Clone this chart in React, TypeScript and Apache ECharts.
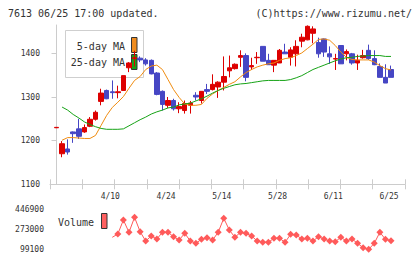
import React, { useEffect, useRef } from "react";
import * as echarts from "echarts";

const dates = [
  "3/27","3/30","3/31","4/1","4/2","4/3","4/6","4/7","4/8","4/9",
  "4/10","4/13","4/14","4/15","4/16","4/17","4/20","4/21","4/22","4/23",
  "4/24","4/27","4/28","4/30","5/1","5/7","5/8","5/11","5/12","5/13",
  "5/14","5/15","5/18","5/19","5/20","5/21","5/22","5/25","5/26","5/27",
  "5/28","5/29","6/1","6/2","6/3","6/4","6/5","6/8","6/9","6/10",
  "6/11","6/12","6/15","6/16","6/17","6/18","6/19","6/22","6/23","6/24","6/25",
];
const opens = [
  1229.5,1170,1181,1220,1227,1220,1233,1249,1290,1315,
  1312,1310,1315,1367,1388,1389,1385,1384,1355,1313,
  1281,1292,1273,1269,1281,1304,1292,1317,1317,1323,
  1334,1360,1365,1391,1395,1369,1390,1416,1384,1373,
  1378,1403,1391,1399,1428,1431,1446,1425,1433,1399,
  1387,1418,1399,1399,1378,1390,1407,1388,1370,1345,1363,
];
const closes = [
  1230.5,1193,1174,1216,1210,1230,1249,1265,1309,1296,
  1310,1312,1349,1378,1390,1385,1376,1353,1306,1283,
  1292,1273,1278,1285,1286,1300,1313,1313,1329,1334,
  1347,1367,1375,1395,1345,1372,1391,1382,1374,1384,
  1407,1399,1408,1416,1437,1462,1456,1399,1403,1392,
  1388,1376,1404,1378,1384,1395,1388,1374,1345,1332,1345,
];
const lows = [
  1229.5,1162,1168,1195,1204,1218,1231,1246,1281,1295,
  1296,1297,1315,1357,1370,1380,1372,1352,1304,1269,
  1275,1269,1263,1262,1262,1292,1285,1307,1315,1298,
  1315,1345,1363,1369,1336,1362,1376,1382,1374,1357,
  1378,1399,1372,1370,1414,1430,1423,1390,1392,1376,
  1362,1376,1384,1374,1362,1388,1385,1373,1345,1332,1345,
];
const highs = [
  1230.5,1199,1203,1221,1250,1237,1254,1269,1319,1317,
  1338,1326,1349,1380,1406,1393,1389,1386,1357,1315,
  1300,1296,1288,1292,1291,1311,1313,1330,1352,1336,
  1393,1395,1377,1407,1400,1390,1403,1416,1399,1384,
  1410,1422,1414,1430,1445,1464,1462,1436,1434,1416,
  1399,1418,1409,1401,1397,1408,1420,1407,1377,1375,1372,
];
const ma5 = [
  null,1201,1207,1207,1206,1205,1205,1212,1235,1258,
  1276,1288,1301,1320,1338,1347,1363,1371,1373,1363,
  1340,1317,1299,1284,1281,1281,1283,1297,1307,1315,
  1322,1329,1335,1346,1356,1363,1369,1373,1376,1378,
  1384,1388,1390,1395,1401,1411,1421,1432,1433,1430,
  1418,1403,1391,1386,1385,1385,1385,1380,1372,1365,1362,
];
const ma25 = [
  null,1277,1270,1260,1252,1243,1237,1232,1228,1226,
  1226,1226,1227,1234,1241,1248,1254,1261,1266,1270,
  1275,1277,1282,1284,1286,1291,1296,1302,1309,1315,
  1320,1324,1328,1330,1331,1333,1335,1337,1338,1338,
  1338,1338,1340,1344,1349,1356,1363,1368,1373,1378,
  1383,1387,1390,1391,1393,1394,1395,1395,1395,1393,1393,
];
const volumes = [
  null,null,null,null,null,null,null,null,null,null,
  203400,232100,353900,246900,377300,252100,171300,214700,188700,246900,
  246900,208700,180000,238200,171300,151300,186100,200000,180000,246900,
  368600,266900,203400,246900,238200,214700,171300,160000,160000,194700,
  194700,160000,229500,223400,188700,194700,171300,208700,188700,171300,
  165200,203400,171300,188700,151300,113000,99100,151300,246900,186100,173900,
];
const priceTicks = [1100, 1200, 1300, 1400];
const volumeTicks = [99100, 273000, 446900];
const dateLabelIdx = [10, 20, 30, 40, 50, 60];

const MONO = "DejaVu Sans Mono";
const AXIS_GRAY = "#cccccc";
const TEXT = "#333333";
const UP = "#dd0000";
const DOWN = "#4646c4";

export default function App() {
  const ref = useRef<HTMLDivElement>(null);
  useEffect(() => {
    const chart = echarts.init(ref.current!, null, { renderer: "svg" });
    const xMin = -1.166;
    const xMax = 62.51;
    const candleData = dates.map((_, i) => [i, opens[i], closes[i], lows[i], highs[i]]);
    const ma5Data = ma5.map((v, i) => (v == null ? null : [i, v])).filter((d) => d) as number[][];
    const ma25Data = ma25.map((v, i) => (v == null ? null : [i, v])).filter((d) => d) as number[][];
    const volData: any[] = [];
    volumes.forEach((v, i) => {
      if (v == null) return;
      if (volData.length === 0) volData.push({ value: [i, v], symbol: "none" });
      else volData.push([i, v]);
    });
    const plain = (v: number) => String(v);
    const option: any = {
      animation: false,
      grid: [
        { left: 50, top: 25, width: 355, height: 159.3, show: false },
        { left: 50, top: 209.3, width: 355, height: 40, show: false },
      ],
      xAxis: [
        {
          type: "value", gridIndex: 0, min: xMin, max: xMax, position: "bottom",
          axisLine: { show: false }, axisTick: { show: false }, splitLine: { show: false },
          axisLabel: {
            customValues: dateLabelIdx, formatter: (v: number) => dates[Math.round(v)] || "",
            fontFamily: MONO, fontSize: 8, color: TEXT, margin: 8, padding: [0, 4, 0, 0],
          },
        },
        {
          type: "value", gridIndex: 0, min: 0, max: 11, interval: 1, position: "bottom",
          axisLine: { show: true, lineStyle: { color: AXIS_GRAY, width: 1 } },
          axisTick: { show: true, length: 5, lineStyle: { color: AXIS_GRAY } },
          axisLabel: { show: false }, splitLine: { show: false },
        },
        {
          type: "value", gridIndex: 0, min: 0, max: 11, interval: 1, position: "bottom",
          axisLine: { show: false },
          axisTick: { show: true, inside: true, length: 5, lineStyle: { color: AXIS_GRAY } },
          axisLabel: { show: false }, splitLine: { show: false },
        },
        {
          type: "value", gridIndex: 1, min: xMin, max: xMax,
          show: false,
        },
      ],
      yAxis: [
        {
          type: "value", gridIndex: 0, min: 1100, max: 1465,
          axisLine: { show: true, lineStyle: { color: AXIS_GRAY, width: 1 } },
          axisTick: { show: true, length: 5, customValues: priceTicks, lineStyle: { color: AXIS_GRAY } },
          axisLabel: { customValues: priceTicks, formatter: plain, fontFamily: MONO, fontSize: 8, color: TEXT, margin: 10 },
          splitLine: { show: false },
        },
        {
          type: "value", gridIndex: 1, min: 99100, max: 446900,
          axisLine: { show: false }, axisTick: { show: false }, splitLine: { show: false },
          axisLabel: { customValues: volumeTicks, formatter: plain, fontFamily: MONO, fontSize: 8, color: TEXT, margin: 6 },
        },
      ],
      series: [
        {
          type: "candlestick", xAxisIndex: 0, yAxisIndex: 0,
          data: candleData, encode: { x: 0, y: [1, 2, 3, 4] },
          barWidth: 5,
          itemStyle: { color: UP, color0: DOWN, borderColor: UP, borderColor0: DOWN, borderWidth: 1 },
          z: 3,
        },
        {
          type: "line", xAxisIndex: 0, yAxisIndex: 0, data: ma5Data,
          showSymbol: false, symbol: "none",
          lineStyle: { color: "#f08c10", width: 1 }, z: 4,
        },
        {
          type: "line", xAxisIndex: 0, yAxisIndex: 0, data: ma25Data,
          showSymbol: false, symbol: "none",
          lineStyle: { color: "#16a316", width: 1 }, z: 4,
        },
        {
          type: "line", xAxisIndex: 3, yAxisIndex: 1, data: volData,
          symbol: "diamond", symbolSize: 7,
          itemStyle: { color: "#ff5a5a" },
          lineStyle: { color: "#ff5a5a", width: 1 },
        },
      ],
      graphic: [
        { type: "text", x: 8, y: 13.5, z: 0, style: { text: "7613 06/25 17:00 updated.", font: `10px '${MONO}'`, fill: TEXT, verticalAlign: "middle" } },
        { type: "text", x: 412, y: 13.5, z: 0, style: { text: "(C)https://www.rizumu.net/", font: `10px '${MONO}'`, fill: TEXT, align: "right", verticalAlign: "middle" } },
        { type: "rect", z: 0, shape: { x: 65.5, y: 30.5, width: 78, height: 47 }, style: { fill: "none", stroke: "#cfcfcf", lineWidth: 1 } },
        { type: "text", x: 125, y: 46, z: 0, style: { text: "5-day MA", font: `10px '${MONO}'`, fill: TEXT, align: "right", verticalAlign: "middle" } },
        { type: "text", x: 125, y: 62.5, z: 0, style: { text: "25-day MA", font: `10px '${MONO}'`, fill: TEXT, align: "right", verticalAlign: "middle" } },
        { type: "rect", z: 0, shape: { x: 131.5, y: 37.5, width: 5.5, height: 15 }, style: { fill: "#f08c1e", stroke: "#333", lineWidth: 1 } },
        { type: "rect", z: 0, shape: { x: 131.5, y: 54.5, width: 5.5, height: 15 }, style: { fill: "#16a316", stroke: "#333", lineWidth: 1 } },
        { type: "text", x: 58, y: 222.5, z: 0, style: { text: "Volume", font: `10px '${MONO}'`, fill: TEXT, verticalAlign: "middle" } },
        { type: "rect", z: 0, shape: { x: 101.5, y: 213.5, width: 5.5, height: 15 }, style: { fill: "#ff6060", stroke: "#333", lineWidth: 1 } },
      ],
    };
    chart.setOption(option);
    return () => chart.dispose();
  }, []);
  return (
    <div
      ref={ref}
      style={{ position: "fixed", left: 0, top: 0, width: 420, height: 259, background: "#fff" }}
    />
  );
}
